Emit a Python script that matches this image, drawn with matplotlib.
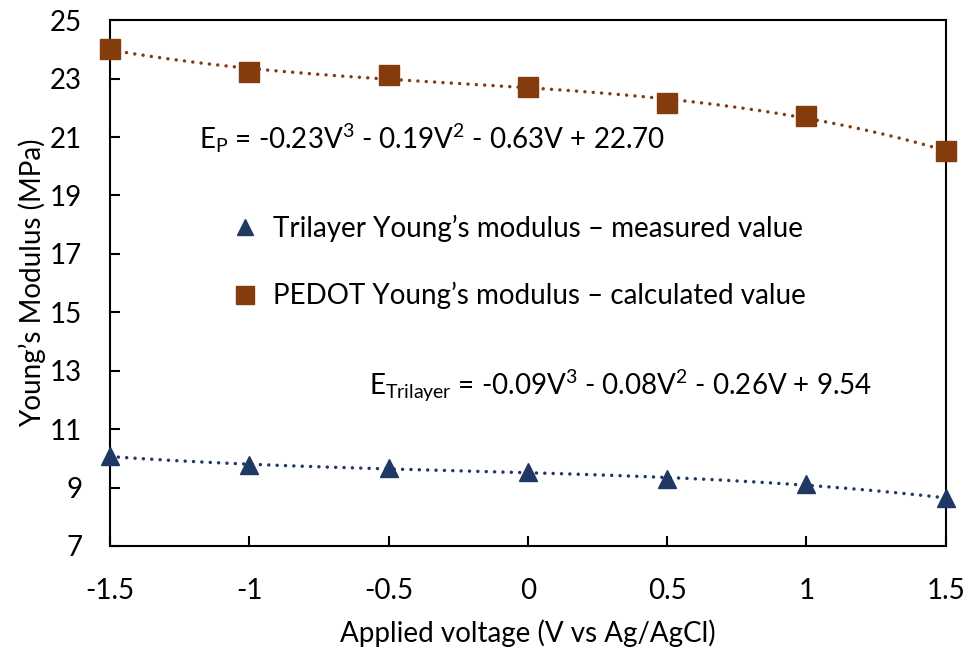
import numpy as np
import matplotlib
matplotlib.use("Agg")
import matplotlib.pyplot as plt

plt.rcParams['font.family'] = ['Lato', 'DejaVu Sans']
plt.rcParams['mathtext.default'] = 'regular'

# data
voltage = [-1.5, -1.0, -0.5, 0.0, 0.5, 1.0, 1.5]
pedot_modulus = [24.02, 23.22, 23.12, 22.70, 22.18, 21.72, 20.52]
trilayer_modulus = [10.07, 9.77, 9.67, 9.52, 9.30, 9.11, 8.64]

x_ticks = [-1.5, -1, -0.5, 0, 0.5, 1, 1.5]
x_ticklabels = ['-1.5', '-1', '-0.5', '0', '0.5', '1', '1.5']
y_ticks = [7, 9, 11, 13, 15, 17, 19, 21, 23, 25]

brown = '#843C0C'
navy = '#1F3864'
fs = 20

fig = plt.figure(figsize=(9.69, 6.51), dpi=100)
ax = fig.add_axes([0.1135, 0.1613, 0.8625, 0.8077])

# cubic trendlines (like Excel's polynomial fit)
xs = np.linspace(-1.5, 1.5, 200)
p_fit = np.polyfit(voltage, pedot_modulus, 3)
t_fit = np.polyfit(voltage, trilayer_modulus, 3)
dots = (0, (0.01, 2.4))
ax.plot(xs, np.polyval(p_fit, xs), color=brown, linestyle=dots,
        linewidth=2.5, dash_capstyle='round', zorder=2)
ax.plot(xs, np.polyval(t_fit, xs), color=navy, linestyle=dots,
        linewidth=2.5, dash_capstyle='round', zorder=2)

tri, = ax.plot(voltage, trilayer_modulus, linestyle='none', marker='^',
               markersize=13.5, color=navy, clip_on=False, zorder=3,
               label='Trilayer Young\u2019s modulus \u2013 measured value')
sq, = ax.plot(voltage, pedot_modulus, linestyle='none', marker='s',
              markersize=14, color=brown, clip_on=False, zorder=3,
              label='PEDOT Young\u2019s modulus \u2013 calculated value')

ax.set_xlim(-1.5, 1.5)
ax.set_ylim(7, 25)
ax.set_xticks(x_ticks)
ax.set_xticklabels(x_ticklabels)
ax.set_yticks(y_ticks)
ax.tick_params(direction='in', length=7, width=1.5, labelsize=fs, colors='black')
ax.tick_params(axis='x', pad=23)
ax.tick_params(axis='y', pad=20)
for s in ax.spines.values():
    s.set_linewidth(1.5)
    s.set_color('black')

ax.set_xlabel('Applied voltage (V vs Ag/AgCl)', fontsize=fs, labelpad=11)
ax.set_ylabel('Young\u2019s Modulus (MPa)', fontsize=fs, labelpad=3)

leg = ax.legend(handles=[tri, sq], loc='upper left', bbox_to_anchor=(0.1056, 0.678),
                frameon=False, fontsize=fs, handletextpad=0.2,
                labelspacing=1.45, markerscale=0.9, handlelength=1.6)

ax.text(0.107, 0.775, 'E$_P$ = -0.23V$^3$ - 0.19V$^2$ - 0.63V + 22.70',
        transform=ax.transAxes, fontsize=fs, va='center', ha='left')
ax.text(0.31, 0.305, 'E$_{Trilayer}$ = -0.09V$^3$ - 0.08V$^2$ - 0.26V + 9.54',
        transform=ax.transAxes, fontsize=fs, va='center', ha='left')

fig.savefig('out.png', dpi=100)
